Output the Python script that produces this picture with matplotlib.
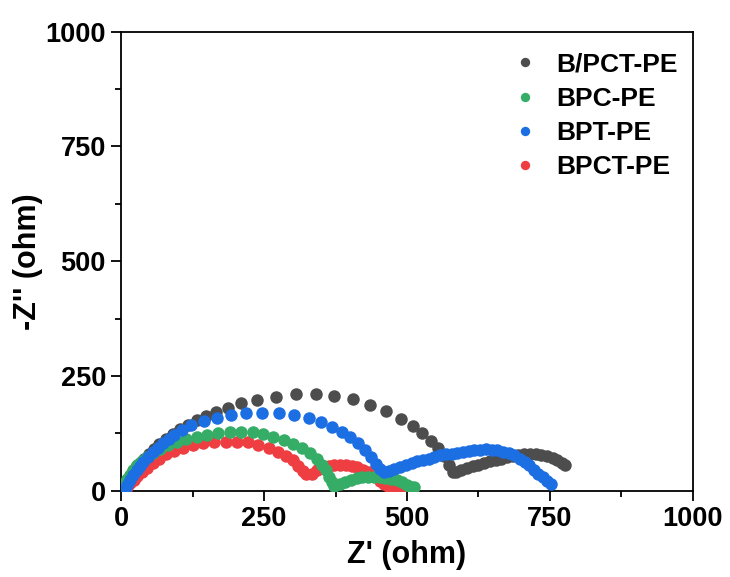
import numpy as np
import matplotlib.pyplot as plt
from matplotlib.ticker import MultipleLocator

# Данные (Z', -Z'')
gray_x = [3, 6, 10, 15, 20, 26, 33, 40, 48, 57, 67, 78, 90, 103, 117, 132, 148, 166, 187, 210,
          238, 270, 305, 340, 373, 405, 436, 464, 489, 510, 527, 542, 554, 565, 574, 580,
          585, 595, 605, 615, 625, 635, 645, 655, 665, 675, 685, 695, 705, 715, 725, 735,
          745, 755, 763, 771, 776]
gray_y = [5, 14, 24, 33, 42, 51, 61, 70, 80, 90, 101, 112, 123, 134, 144, 154, 163, 172, 181, 190,
          198, 205, 210, 210, 206, 199, 187, 173, 156, 140, 126, 108, 92, 75, 55, 40,
          40, 45, 49, 53, 57, 61, 64, 67, 70, 73, 76, 78, 79, 80, 80, 78,
          75, 71, 66, 60, 56]

green_x = [3, 6, 10, 15, 21, 28, 36, 45, 56, 68, 82, 97, 114, 132, 150, 170, 190, 210, 230, 248,
           266, 284, 301, 316, 331, 343, 351, 358, 364, 369, 373,
           382, 392, 402, 412, 422, 432, 442, 452, 462, 472, 482, 492, 500, 507, 512]
green_y = [8, 17, 26, 35, 45, 55, 64, 73, 82, 91, 99, 106, 113, 118, 122, 125, 127, 128, 127, 124,
           118, 110, 102, 92, 82, 70, 57, 44, 30, 18, 11,
           14, 19, 24, 27, 29, 30, 30, 29, 28, 26, 23, 18, 13, 9, 7]

blue_x = [7, 11, 16, 21, 27, 33, 39, 47, 56, 65, 74, 83, 92, 106, 123, 145, 167, 193, 219, 247,
          276, 302, 328, 349, 368, 386, 401, 414, 426, 437, 446, 453, 459,
          468, 478, 488, 498, 508, 518, 528, 538, 548, 558, 568, 578, 588, 598, 608, 618,
          628, 638, 648, 658, 668, 678, 688, 698, 706, 714, 722, 730, 738, 745, 752]
blue_y = [2, 12, 23, 34, 45, 54, 63, 74, 85, 94, 103, 112, 121, 132, 143, 151, 158, 165, 169, 170,
          169, 164, 158, 150, 139, 127, 116, 103, 88, 73, 58, 47, 41,
          43, 47, 52, 56, 60, 64, 67, 70, 74, 77, 79, 81, 83, 85, 87, 88,
          89, 90, 89, 88, 85, 82, 77, 70, 63, 55, 46, 37, 29, 22, 15]

red_x = [5, 10, 16, 22, 28, 36, 45, 55, 66, 78, 92, 108, 125, 144, 163, 183, 203, 222, 240, 258,
         274, 288, 300, 310, 318, 324, 333, 343, 353, 363, 373, 383, 393, 403, 413, 423,
         433, 443, 452, 460, 468, 476, 484, 490]
red_y = [3, 9, 16, 23, 31, 40, 50, 60, 70, 79, 87, 93, 99, 103, 106, 107, 107, 105, 100, 93,
         85, 76, 66, 54, 43, 36, 37, 44, 50, 53, 55, 55, 55, 54, 51, 46,
         40, 31, 22, 14, 8, 5, 3, 2]

labels = ['B/PCT-PE', 'BPC-PE', 'BPT-PE', 'BPCT-PE']
colors = ['#4d4d4d', '#36ad66', '#1c6ee3', '#ef3e42']

plt.rcParams['font.family'] = ['Liberation Sans', 'DejaVu Sans']
plt.rcParams['font.weight'] = 'bold'

fig = plt.figure(figsize=(7.3, 5.77), dpi=100)
ax = fig.add_axes([0.166, 0.1496, 0.783, 0.7954])

ms = 9
h_gray, = ax.plot(gray_x, gray_y, 'o', color=colors[0], ms=ms, mew=0, zorder=2)
h_red, = ax.plot(red_x, red_y, 'o', color=colors[3], ms=ms, mew=0, zorder=3)
h_green, = ax.plot(green_x, green_y, 'o', color=colors[1], ms=ms, mew=0, zorder=4)
h_blue, = ax.plot(blue_x, blue_y, 'o', color=colors[2], ms=ms, mew=0, zorder=5)

ax.set_xlim(0, 1000)
ax.set_ylim(0, 1000)
ax.xaxis.set_major_locator(MultipleLocator(250))
ax.yaxis.set_major_locator(MultipleLocator(250))
ax.xaxis.set_minor_locator(MultipleLocator(125))
ax.yaxis.set_minor_locator(MultipleLocator(125))
ax.tick_params(which='major', direction='out', length=7, width=1.3, labelsize=19.5, pad=4)
ax.tick_params(which='minor', direction='out', length=4, width=1.3)
ax.tick_params(top=False, right=False)
for s in ax.spines.values():
    s.set_linewidth(1.3)

ax.set_xlabel("Z' (ohm)", fontsize=22, fontweight='bold', labelpad=6)
ax.set_ylabel("-Z'' (ohm)", fontsize=22, fontweight='bold', labelpad=2)

ax.legend([h_gray, h_green, h_blue, h_red], labels, loc='upper right', frameon=False,
          fontsize=19, handlelength=1.4, handletextpad=0.47, labelspacing=0.39,
          markerscale=0.75, borderaxespad=0.6, bbox_to_anchor=(1.02, 1.012))

fig.savefig('out.png', dpi=100)
